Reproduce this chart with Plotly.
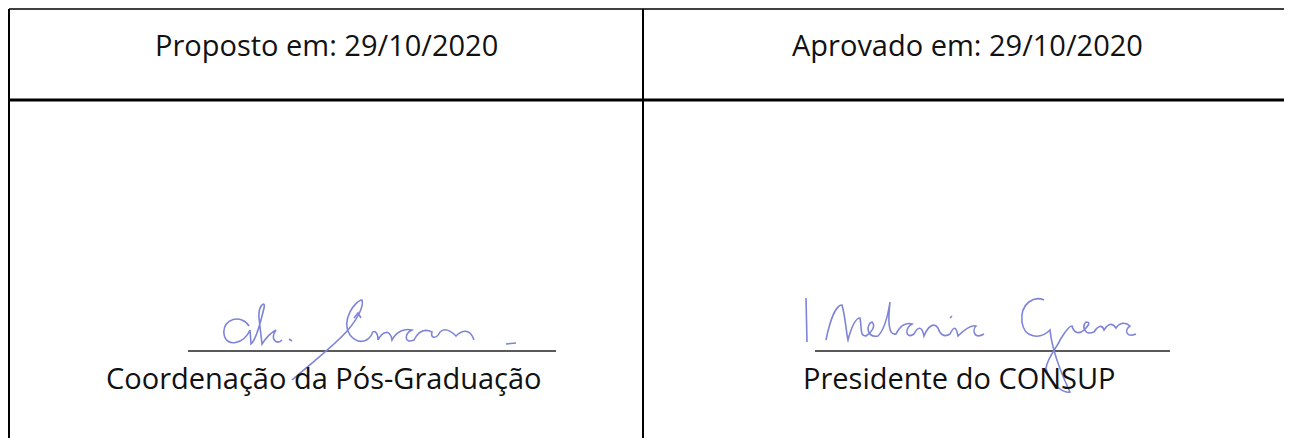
import plotly.graph_objects as go

# Page is 1292x438; the browser body adds an 8px margin, so the figure
# covers page pixels 8..1292 x 8..438 and the axes use page coordinates.
PAGE_W, PAGE_H, OFF = 1292, 438, 8

# Table content
header_texts = ["Proposto em: 29/10/2020", "Aprovado em: 29/10/2020"]
role_texts = ["Coordenação da Pós-Graduação", "Presidente do CONSUP"]
col_edges = [9, 643, 1292]
row_edges = [9, 100, 438]

fig = go.Figure()

shapes = []
shapes.append(dict(type="line", x0=col_edges[0], x1=col_edges[2], y0=row_edges[0], y1=row_edges[0],
                   line=dict(color="black", width=1.6)))
shapes.append(dict(type="line", x0=col_edges[0], x1=col_edges[2], y0=row_edges[1], y1=row_edges[1],
                   line=dict(color="black", width=3)))
for xe in col_edges[:2]:
    shapes.append(dict(type="line", x0=xe, x1=xe, y0=row_edges[0], y1=row_edges[2],
                       line=dict(color="black", width=2)))

# signature lines
shapes.append(dict(type="line", x0=188, x1=556, y0=351, y1=351, line=dict(color="#222", width=1.5)))
shapes.append(dict(type="line", x0=815, x1=1170, y0=351, y1=351, line=dict(color="#222", width=1.5)))

sig = "#7e84d8"
sig_paths = [
    # left signature
    "M 249 326 C 242 314, 222 318, 224 334 C 226 348, 244 344, 250 330 L 251 344 C 256 340, 260 325, 264 308 C 266 300, 258 305, 259 318 L 262 344 C 266 338, 272 332, 276 330 C 270 338, 276 346, 282 340",
    "M 289 339 L 292 341",
    "M 292 380 C 315 360, 335 345, 348 330 C 358 318, 364 306, 362 300 C 356 300, 340 320, 350 335 C 358 345, 368 342, 372 334 C 372 330, 378 330, 378 340 C 382 332, 390 328, 392 340 C 396 332, 404 328, 412 330 C 404 334, 404 344, 414 340 C 418 332, 424 328, 432 332 C 430 338, 436 340, 440 332 C 444 328, 450 330, 456 336 C 462 330, 470 328, 474 340",
    "M 354 318 L 358 313 L 361 318",
    "M 506 344 L 516 343",
    # right signature
    "M 806 298 L 807 342",
    "M 826 340 C 830 320, 836 305, 842 305 C 846 320, 846 332, 848 340 C 852 325, 856 318, 860 318 C 862 330, 860 336, 866 336 C 872 332, 876 326, 872 322 C 866 324, 866 338, 878 336 C 884 330, 888 315, 890 302 C 888 320, 888 336, 896 334 C 900 326, 906 322, 912 324 C 904 328, 906 340, 914 334 C 918 326, 922 326, 924 336 C 928 326, 934 322, 938 328 C 940 334, 944 338, 950 334 C 954 326, 956 326, 958 336 C 962 332, 970 324, 976 326 C 972 330, 974 340, 984 334",
    "M 950 318 L 952 316",
    "M 1044 300 C 1035 296, 1020 302, 1022 322 C 1024 338, 1040 340, 1050 330 C 1052 350, 1062 375, 1070 392 C 1062 394, 1048 380, 1046 368 C 1048 356, 1058 346, 1060 340 C 1064 334, 1068 326, 1072 326 C 1074 334, 1080 334, 1084 330 C 1090 324, 1090 322, 1086 322 C 1082 326, 1084 336, 1094 332 C 1098 326, 1102 324, 1104 330 C 1108 324, 1112 322, 1116 328 C 1120 322, 1126 322, 1130 326 C 1124 330, 1126 338, 1136 334",
]
for p in sig_paths:
    shapes.append(dict(type="path", path=p, line=dict(color=sig, width=1.6)))

annotations = []
font = dict(family="Open Sans", size=29, color="#111")
for i, t in enumerate(header_texts):
    cx = (col_edges[i] + col_edges[i + 1]) / 2
    annotations.append(dict(x=cx, y=44, text=t, showarrow=False, xanchor="center", yanchor="middle",
                            font=font))
role_x = [104, 801]
for i, t in enumerate(role_texts):
    annotations.append(dict(x=role_x[i], y=377, text=t, showarrow=False, xanchor="left", yanchor="middle",
                            font=font))

fig.update_layout(
    width=PAGE_W - OFF, height=PAGE_H - OFF,
    margin=dict(l=0, r=0, t=0, b=0),
    paper_bgcolor="white", plot_bgcolor="white",
    xaxis=dict(range=[OFF, PAGE_W], visible=False, fixedrange=True),
    yaxis=dict(range=[PAGE_H, OFF], visible=False, fixedrange=True),
    shapes=shapes, annotations=annotations, showlegend=False,
)

fig.write_html("out.html", config={"displayModeBar": False})
